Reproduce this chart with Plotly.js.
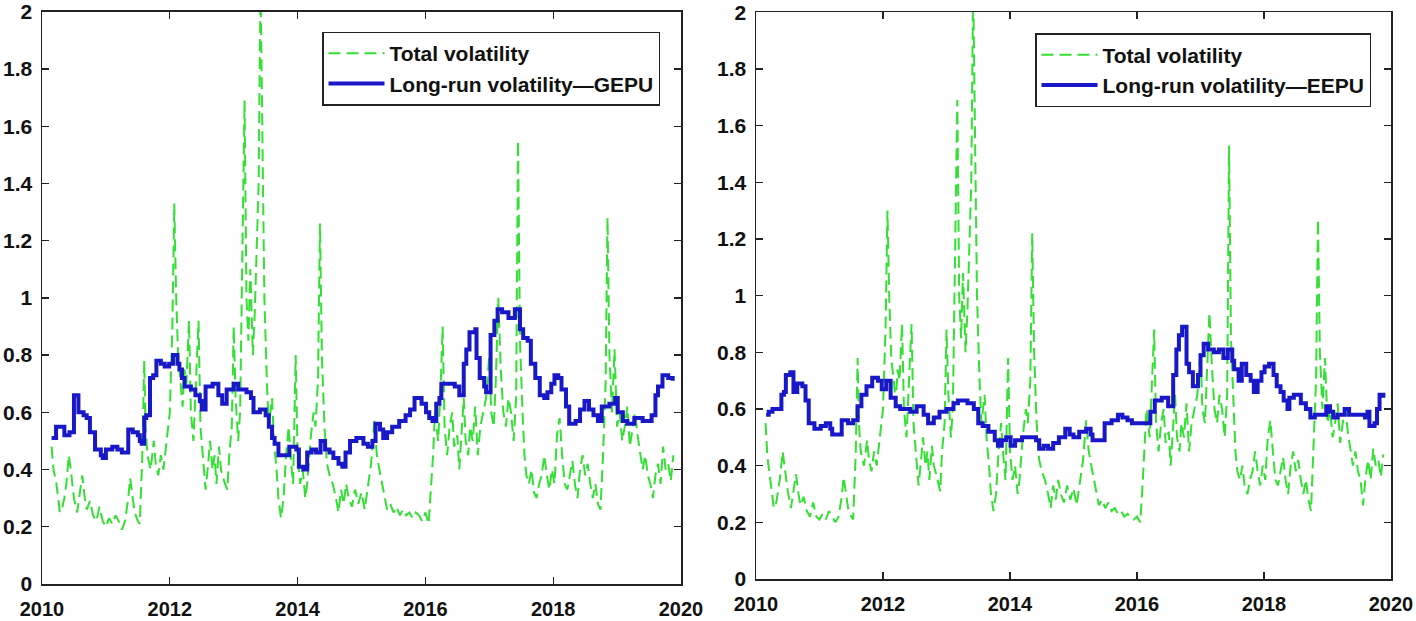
<!DOCTYPE html>
<html>
<head>
<meta charset="utf-8">
<script src="https://cdn.plot.ly/plotly-3.0.1.min.js"></script>
<style>html,body{margin:0;padding:0;background:#fff;}#chart{width:1416px;height:621px;}</style>
</head>
<body>
<div id="chart"></div>
<script>
// ---- Data (decimal years) ----
const greenYears = [
2010.15,2010.18,2010.22,2010.25,2010.28,2010.32,2010.35,2010.38,2010.42,2010.45,
2010.48,2010.50,2010.55,2010.60,2010.63,2010.67,2010.70,2010.75,2010.80,2010.85,
2010.90,2010.95,2011.00,2011.05,2011.10,2011.15,2011.20,2011.25,2011.30,2011.35,
2011.38,2011.42,2011.45,2011.50,2011.53,2011.57,2011.60,2011.62,2011.65,2011.70,
2011.75,2011.78,2011.82,2011.86,2011.90,2011.95,2012.00,2012.04,2012.07,2012.10,
2012.13,2012.17,2012.20,2012.23,2012.26,2012.30,2012.33,2012.37,2012.40,2012.45,
2012.48,2012.52,2012.56,2012.60,2012.63,2012.67,2012.70,2012.73,2012.77,2012.80,
2012.85,2012.90,2012.93,2012.97,2013.00,2013.03,2013.07,2013.10,2013.14,2013.17,
2013.20,2013.23,2013.26,2013.30,2013.33,2013.36,2013.39,2013.42,2013.45,2013.48,
2013.52,2013.55,2013.60,2013.63,2013.67,2013.70,2013.74,2013.78,2013.82,2013.86,
2013.90,2013.93,2013.97,2014.00,2014.04,2014.08,2014.12,2014.15,2014.20,2014.25,
2014.28,2014.32,2014.35,2014.38,2014.42,2014.46,2014.50,2014.55,2014.60,2014.64,
2014.68,2014.72,2014.76,2014.80,2014.85,2014.90,2014.95,2015.00,2015.05,2015.10,
2015.15,2015.20,2015.24,2015.28,2015.32,2015.36,2015.40,2015.45,2015.50,2015.55,
2015.60,2015.65,2015.70,2015.75,2015.80,2015.85,2015.90,2015.95,2016.00,2016.05,
2016.08,2016.12,2016.15,2016.20,2016.24,2016.27,2016.30,2016.34,2016.38,2016.42,
2016.45,2016.50,2016.53,2016.57,2016.60,2016.63,2016.67,2016.70,2016.74,2016.78,
2016.82,2016.86,2016.90,2016.95,2017.00,2017.03,2017.07,2017.10,2017.14,2017.18,
2017.22,2017.26,2017.30,2017.34,2017.38,2017.42,2017.45,2017.48,2017.52,2017.55,
2017.58,2017.62,2017.66,2017.70,2017.74,2017.78,2017.82,2017.86,2017.90,2017.94,
2017.98,2018.02,2018.06,2018.10,2018.14,2018.18,2018.22,2018.26,2018.30,2018.34,
2018.38,2018.42,2018.46,2018.50,2018.54,2018.58,2018.62,2018.66,2018.70,2018.74,
2018.78,2018.82,2018.85,2018.88,2018.92,2018.96,2019.00,2019.04,2019.08,2019.12,
2019.16,2019.20,2019.24,2019.28,2019.32,2019.36,2019.40,2019.44,2019.48,2019.52,
2019.56,2019.60,2019.64,2019.68,2019.72,2019.76,2019.80,2019.84,2019.88
];

const totalVolGEPU = [
0.48,0.40,0.36,0.30,0.25,0.27,0.30,0.35,0.45,0.40,
0.34,0.30,0.25,0.33,0.38,0.30,0.26,0.29,0.24,0.22,
0.27,0.22,0.20,0.23,0.21,0.24,0.22,0.19,0.22,0.30,
0.37,0.30,0.25,0.22,0.21,0.45,0.78,0.55,0.45,0.40,
0.50,0.42,0.38,0.45,0.40,0.50,0.60,0.90,1.33,1.00,
0.80,0.70,0.62,0.75,0.70,0.92,0.60,0.50,0.65,0.92,
0.55,0.45,0.33,0.42,0.50,0.40,0.45,0.35,0.48,0.40,
0.36,0.33,0.45,0.55,0.90,0.65,0.50,0.60,1.20,1.69,
1.00,0.85,1.10,0.80,0.95,1.20,1.40,2.10,1.60,1.00,
0.70,0.55,0.65,0.50,0.40,0.30,0.23,0.30,0.45,0.55,
0.42,0.35,0.80,0.45,0.35,0.40,0.30,0.35,0.50,0.60,
0.55,0.72,1.26,0.80,0.55,0.42,0.38,0.35,0.30,0.25,
0.33,0.28,0.35,0.30,0.27,0.33,0.28,0.32,0.26,0.35,
0.42,0.57,0.45,0.40,0.35,0.30,0.26,0.28,0.25,0.27,
0.24,0.26,0.24,0.25,0.23,0.25,0.24,0.22,0.25,0.21,
0.30,0.45,0.60,0.50,0.70,0.90,0.55,0.45,0.55,0.60,
0.48,0.52,0.40,0.55,0.65,0.50,0.45,0.55,0.50,0.62,
0.45,0.55,0.60,0.65,0.80,0.60,0.55,0.70,1.00,0.75,
0.60,0.55,0.65,0.60,0.50,0.65,1.55,0.85,0.60,0.45,
0.38,0.35,0.40,0.32,0.30,0.35,0.38,0.45,0.38,0.33,
0.40,0.35,0.52,0.58,0.45,0.35,0.33,0.38,0.43,0.35,
0.30,0.40,0.45,0.38,0.42,0.35,0.30,0.35,0.28,0.26,
0.45,0.70,1.28,0.80,0.60,0.82,0.55,0.60,0.50,0.55,
0.62,0.48,0.55,0.60,0.52,0.45,0.40,0.45,0.38,0.35,
0.30,0.38,0.42,0.35,0.48,0.40,0.42,0.36,0.45
];

const totalVolEEPU = [
0.55,0.43,0.36,0.30,0.25,0.27,0.31,0.36,0.45,0.40,
0.35,0.31,0.25,0.33,0.37,0.30,0.26,0.29,0.24,0.22,
0.27,0.22,0.21,0.23,0.21,0.24,0.22,0.20,0.22,0.29,
0.36,0.30,0.25,0.22,0.21,0.44,0.78,0.55,0.45,0.40,
0.49,0.42,0.38,0.45,0.40,0.50,0.60,0.88,1.30,0.98,
0.78,0.70,0.62,0.74,0.70,0.90,0.60,0.50,0.64,0.90,
0.55,0.45,0.33,0.42,0.50,0.40,0.45,0.35,0.47,0.40,
0.36,0.31,0.45,0.55,0.88,0.65,0.50,0.60,1.18,1.69,
1.00,0.85,1.08,0.80,0.95,1.18,1.40,2.10,1.60,1.00,
0.70,0.55,0.65,0.50,0.40,0.30,0.24,0.30,0.45,0.55,
0.42,0.35,0.78,0.45,0.35,0.40,0.30,0.35,0.50,0.60,
0.55,0.70,1.22,0.80,0.55,0.42,0.38,0.35,0.30,0.25,
0.33,0.28,0.35,0.30,0.27,0.33,0.28,0.32,0.26,0.35,
0.42,0.56,0.45,0.40,0.35,0.30,0.26,0.28,0.25,0.27,
0.24,0.25,0.23,0.24,0.22,0.23,0.22,0.21,0.22,0.20,
0.30,0.45,0.60,0.50,0.70,0.88,0.55,0.45,0.55,0.60,
0.48,0.52,0.40,0.55,0.65,0.50,0.45,0.55,0.50,0.62,
0.45,0.55,0.60,0.65,0.80,0.60,0.55,0.70,0.94,0.75,
0.60,0.55,0.65,0.60,0.50,0.65,1.53,0.85,0.60,0.45,
0.38,0.35,0.40,0.32,0.30,0.35,0.38,0.45,0.38,0.33,
0.40,0.35,0.50,0.56,0.45,0.35,0.33,0.38,0.43,0.35,
0.30,0.40,0.45,0.38,0.42,0.35,0.30,0.35,0.28,0.24,
0.45,0.70,1.27,0.80,0.60,0.78,0.55,0.60,0.50,0.55,
0.62,0.48,0.55,0.60,0.52,0.45,0.40,0.45,0.38,0.35,
0.26,0.36,0.42,0.35,0.46,0.40,0.42,0.36,0.44
];

const gepuYears = [
2010.15,2010.22,2010.31,2010.35,2010.43,2010.50,2010.55,2010.57,2010.65,2010.70,
2010.75,2010.83,2010.92,2010.95,2011.00,2011.10,2011.18,2011.25,2011.35,2011.42,
2011.50,2011.53,2011.56,2011.60,2011.63,2011.69,2011.74,2011.79,2011.86,2011.92,
2011.99,2012.05,2012.12,2012.15,2012.19,2012.23,2012.33,2012.40,2012.47,2012.50,
2012.56,2012.67,2012.76,2012.82,2012.89,2013.00,2013.07,2013.20,2013.27,2013.31,
2013.41,2013.50,2013.55,2013.60,2013.64,2013.70,2013.80,2013.87,2013.98,2014.02,
2014.09,2014.15,2014.22,2014.29,2014.36,2014.43,2014.50,2014.56,2014.64,2014.70,
2014.75,2014.82,2014.92,2015.03,2015.10,2015.17,2015.22,2015.29,2015.34,2015.40,
2015.48,2015.59,2015.69,2015.76,2015.83,2015.94,2016.01,2016.06,2016.11,2016.17,
2016.22,2016.25,2016.39,2016.46,2016.53,2016.60,2016.64,2016.69,2016.78,2016.80,
2016.85,2016.92,2016.95,2017.02,2017.08,2017.13,2017.20,2017.30,2017.40,2017.48,
2017.53,2017.60,2017.65,2017.72,2017.79,2017.86,2017.91,2017.97,2018.02,2018.08,
2018.13,2018.20,2018.25,2018.35,2018.42,2018.49,2018.56,2018.63,2018.70,2018.76,
2018.88,2018.97,2019.01,2019.09,2019.16,2019.27,2019.40,2019.54,2019.60,2019.64,
2019.71,2019.80,2019.87
];
const longRunGEPU = [
0.51,0.55,0.55,0.52,0.53,0.66,0.66,0.60,0.59,0.58,
0.53,0.47,0.45,0.44,0.47,0.48,0.47,0.46,0.54,0.53,
0.52,0.50,0.49,0.58,0.59,0.72,0.73,0.78,0.77,0.76,
0.77,0.80,0.77,0.75,0.72,0.69,0.68,0.66,0.64,0.61,
0.69,0.70,0.66,0.63,0.68,0.70,0.68,0.67,0.65,0.60,
0.61,0.59,0.55,0.51,0.49,0.45,0.45,0.48,0.47,0.41,
0.40,0.46,0.47,0.46,0.50,0.47,0.46,0.44,0.42,0.41,
0.46,0.50,0.51,0.49,0.48,0.50,0.56,0.54,0.51,0.53,
0.55,0.57,0.59,0.61,0.65,0.63,0.60,0.58,0.57,0.63,
0.65,0.70,0.70,0.69,0.66,0.77,0.82,0.88,0.89,0.79,
0.72,0.69,0.67,0.87,0.92,0.96,0.95,0.93,0.96,0.89,
0.86,0.85,0.77,0.72,0.66,0.65,0.67,0.70,0.73,0.72,
0.68,0.62,0.56,0.57,0.61,0.64,0.61,0.59,0.57,0.62,
0.63,0.65,0.60,0.57,0.56,0.58,0.57,0.59,0.66,0.69,
0.73,0.72,0.71
];

const eepuYears = [
2010.16,2010.20,2010.26,2010.40,2010.44,2010.47,2010.54,2010.59,2010.65,2010.73,
2010.78,2010.83,2010.92,2011.02,2011.10,2011.17,2011.20,2011.35,2011.45,2011.53,
2011.60,2011.66,2011.74,2011.83,2011.92,2011.98,2012.05,2012.12,2012.20,2012.27,
2012.43,2012.53,2012.64,2012.71,2012.80,2012.89,2013.00,2013.11,2013.18,2013.33,
2013.43,2013.50,2013.57,2013.66,2013.76,2013.81,2013.87,2013.94,2014.01,2014.08,
2014.19,2014.41,2014.46,2014.53,2014.60,2014.68,2014.77,2014.87,2014.94,2015.00,
2015.09,2015.20,2015.27,2015.30,2015.49,2015.60,2015.70,2015.77,2015.85,2015.92,
2016.13,2016.21,2016.28,2016.39,2016.49,2016.57,2016.62,2016.66,2016.71,2016.78,
2016.82,2016.88,2016.96,2017.00,2017.05,2017.12,2017.21,2017.29,2017.36,2017.43,
2017.50,2017.53,2017.60,2017.65,2017.72,2017.79,2017.84,2017.90,2017.96,2018.01,
2018.08,2018.15,2018.20,2018.26,2018.31,2018.37,2018.40,2018.47,2018.58,2018.66,
2018.73,2018.80,2018.94,2018.98,2019.04,2019.09,2019.16,2019.27,2019.34,2019.48,
2019.59,2019.63,2019.66,2019.74,2019.78,2019.82,2019.88
];
const longRunEEPU = [
0.58,0.59,0.60,0.65,0.66,0.72,0.73,0.66,0.69,0.68,
0.63,0.55,0.53,0.54,0.55,0.53,0.51,0.56,0.55,0.56,
0.61,0.65,0.68,0.71,0.70,0.67,0.70,0.64,0.61,0.60,
0.59,0.61,0.58,0.55,0.57,0.59,0.60,0.62,0.63,0.62,
0.60,0.55,0.54,0.52,0.49,0.47,0.49,0.50,0.47,0.49,
0.50,0.49,0.46,0.47,0.46,0.48,0.50,0.53,0.51,0.50,
0.52,0.53,0.51,0.49,0.55,0.56,0.58,0.57,0.56,0.55,
0.55,0.59,0.63,0.64,0.61,0.72,0.81,0.86,0.89,0.76,
0.73,0.68,0.72,0.79,0.83,0.81,0.80,0.81,0.78,0.81,
0.77,0.74,0.70,0.76,0.72,0.70,0.66,0.70,0.73,0.75,
0.76,0.72,0.68,0.66,0.63,0.60,0.64,0.65,0.62,0.60,
0.57,0.58,0.58,0.61,0.59,0.57,0.58,0.60,0.58,0.58,
0.57,0.59,0.54,0.55,0.60,0.65,0.64
];

const xTicks = [2010, 2012, 2014, 2016, 2018, 2020];
const yTicks = [0, 0.2, 0.4, 0.6, 0.8, 1, 1.2, 1.4, 1.6, 1.8, 2];
const yTickText = ["0","0.2","0.4","0.6","0.8","1","1.2","1.4","1.6","1.8","2"];

const nameTotal = "Total volatility";
const nameGEPU = "Long-run volatility\u2014GEPU";
const nameEEPU = "Long-run volatility\u2014EEPU";

// ---- Styles ----
const GREEN = "#33e033";
const BLUE = "#1818c8";
const FONT = "'Liberation Sans', Arial, sans-serif";

const traces = [
  {x: greenYears, y: totalVolGEPU, name: nameTotal, type: "scatter", mode: "lines",
   line: {color: GREEN, width: 2, dash: "12px,6px"}, xaxis: "x", yaxis: "y",
   legend: "legend"},
  {x: gepuYears, y: longRunGEPU, name: nameGEPU, type: "scatter", mode: "lines",
   line: {color: BLUE, width: 4, shape: "hv"}, xaxis: "x", yaxis: "y",
   legend: "legend"},
  {x: greenYears, y: totalVolEEPU, name: nameTotal, type: "scatter", mode: "lines",
   line: {color: GREEN, width: 2, dash: "12px,6px"}, xaxis: "x2", yaxis: "y2",
   legend: "legend2"},
  {x: eepuYears, y: longRunEEPU, name: nameEEPU, type: "scatter", mode: "lines",
   line: {color: BLUE, width: 4, shape: "hv"}, xaxis: "x2", yaxis: "y2",
   legend: "legend2"}
];

function xAxis(domain, anchor, standoff) {
  return {domain: domain, anchor: anchor, range: [2010, 2020], tickmode: "array",
    tickvals: xTicks, ticktext: xTicks.map(String), ticks: "inside", ticklen: 7,
    tickwidth: 1.3, tickcolor: "#222", showline: true, linecolor: "#222", linewidth: 1.5,
    mirror: "ticks", showgrid: false, zeroline: false, ticklabelstandoff: standoff,
    ticklabeloverflow: "allow",
    tickfont: {family: FONT, size: 20, color: "#111", weight: "bold"}};
}
function yAxis(domain, anchor) {
  return {domain: domain, anchor: anchor, range: [0, 2.001], tickmode: "array",
    tickvals: yTicks, ticktext: yTickText, ticks: "inside", ticklen: 7,
    tickwidth: 1.3, tickcolor: "#222", showline: true, linecolor: "#222", linewidth: 1.5,
    mirror: "ticks", showgrid: false, zeroline: false, ticklabelstandoff: 4,
    ticklabeloverflow: "allow",
    tickfont: {family: FONT, size: 21, color: "#111", weight: "bold"}};
}
function legendBox(x, y) {
  return {x: x, y: y, xanchor: "left", yanchor: "top", bgcolor: "#fff",
    bordercolor: "#222", borderwidth: 1.5, traceorder: "normal", itemwidth: 56,
    font: {family: FONT, size: 21, color: "#111", weight: "bold"}};
}

const W = 1416, H = 621;
const layout = {
  width: W, height: H, margin: {l: 0, r: 0, t: 0, b: 0},
  paper_bgcolor: "#fff", plot_bgcolor: "#fff", showlegend: true,
  xaxis: xAxis([42 / W, 681 / W], "y", 6),
  yaxis: yAxis([(H - 584) / H, (H - 11.5) / H], "x"),
  xaxis2: xAxis([756 / W, 1391 / W], "y2", 6),
  yaxis2: yAxis([(H - 579) / H, (H - 12) / H], "x2"),
  legend: legendBox(322 / W, 1 - 31.5 / H),
  legend2: legendBox(1035 / W, 1 - 33 / H)
};

Plotly.newPlot("chart", traces, layout, {staticPlot: true, displayModeBar: false});
</script>
</body>
</html>
